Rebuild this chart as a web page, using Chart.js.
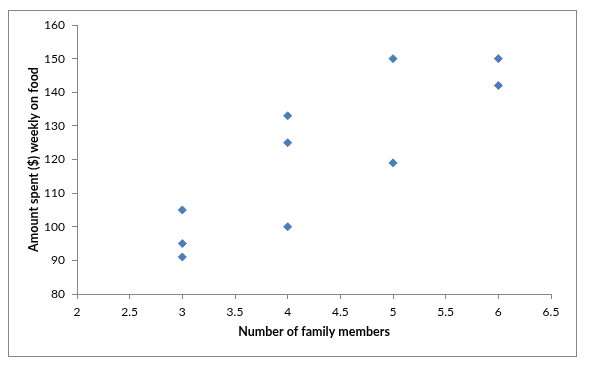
<!DOCTYPE html>
<html><head><meta charset="utf-8">
<script src="https://cdn.jsdelivr.net/npm/chart.js@4"></script>
<style>html,body{margin:0;padding:0;background:#fff}#w{width:591px;height:369px}</style>
</head><body><div id="w"><canvas id="c" width="591" height="369"></canvas></div>
<script>
const familyMembers = [3, 3, 3, 4, 4, 4, 5, 5, 6, 6];
const amountSpent = [105, 95, 91, 133, 125, 100, 150, 119, 150, 142];
const xTitle = 'Number of family members';
const yTitle = 'Amount spent ($) weekly on food';

const points = familyMembers.map((x, i) => ({x: x, y: amountSpent[i]}));
const FONT = 'Lato, "Open Sans", sans-serif';
const frame = {
  id: 'frame',
  beforeDraw(chart) {
    const ctx = chart.ctx;
    ctx.save();
    ctx.fillStyle = '#fff';
    ctx.fillRect(0, 0, chart.width, chart.height);
    ctx.strokeStyle = '#868686';
    ctx.lineWidth = 1;
    ctx.strokeRect(8.5, 10.5, 568, 346);
    ctx.restore();
  }
};
new Chart(document.getElementById('c'), {
  type: 'scatter',
  data: { datasets: [{ data: points, pointStyle: 'rectRot', pointRadius: 4, pointHoverRadius: 4,
    backgroundColor: '#4A7EBB', borderColor: '#4A7EBB', borderWidth: 1 }] },
  options: {
    responsive: false, animation: false,
    layout: { padding: { left: 20, top: 25, right: 40, bottom: 13 } },
    plugins: { legend: { display: false }, tooltip: { enabled: false } },
    scales: {
      x: {
        type: 'linear', min: 2, max: 6.5,
        afterFit(s) { s.height = 62; },
        border: { color: '#868686', width: 1 },
        grid: { display: true, drawOnChartArea: false, drawTicks: true, tickLength: 5, color: '#868686' },
        ticks: { stepSize: 0.5, padding: 6, color: '#000', font: { family: FONT, size: 12 },
          callback: v => String(Math.round(v * 10) / 10) },
        title: { display: true, text: xTitle, color: '#000', padding: { top: 4, bottom: 17 }, font: { family: FONT, size: 12.5, weight: 'bold' } }
      },
      y: {
        type: 'linear', min: 80, max: 160,
        afterFit(s) { s.width = 57; },
        border: { color: '#868686', width: 1 },
        grid: { display: true, drawOnChartArea: false, drawTicks: true, tickLength: 5, color: '#868686' },
        ticks: { stepSize: 10, padding: 7, color: '#000', font: { family: FONT, size: 12 } },
        title: { display: true, text: yTitle, color: '#000', padding: { top: 6, bottom: 4 }, font: { family: FONT, size: 12.5, weight: 'bold' } }
      }
    }
  },
  plugins: [frame]
});
</script></body></html>
